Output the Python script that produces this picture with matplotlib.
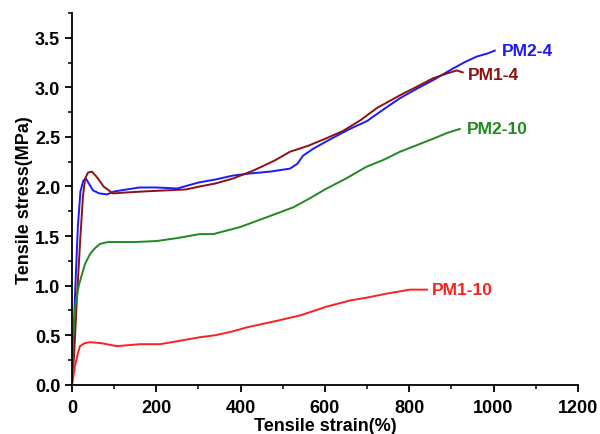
import matplotlib.pyplot as plt
from matplotlib.ticker import MultipleLocator

plt.rcParams['font.family'] = ['Liberation Sans', 'DejaVu Sans']

# curvas tensao x deformacao
pm2_4_x = [0, 3, 8, 14, 20, 27, 33, 40, 50, 65, 83, 100, 130, 160, 200, 250, 300, 340, 382, 420, 470, 517, 535, 548, 572, 610, 659, 700, 740, 778, 820, 860, 896, 930, 960, 985, 1003]
pm2_4_y = [0, 0.4, 1.0, 1.6, 1.95, 2.06, 2.08, 2.03, 1.96, 1.93, 1.92, 1.95, 1.97, 1.99, 1.99, 1.98, 2.04, 2.07, 2.11, 2.13, 2.15, 2.18, 2.23, 2.31, 2.38, 2.47, 2.58, 2.66, 2.78, 2.89, 2.99, 3.08, 3.17, 3.25, 3.31, 3.34, 3.37]

pm1_4_x = [0, 5, 12, 20, 26, 31, 38, 47, 58, 75, 97, 130, 170, 220, 270, 303, 340, 382, 430, 480, 517, 560, 600, 643, 685, 723, 778, 820, 856, 890, 913, 927]
pm1_4_y = [0, 0.3, 0.9, 1.5, 1.9, 2.08, 2.14, 2.15, 2.1, 2.0, 1.93, 1.94, 1.95, 1.96, 1.97, 2.0, 2.03, 2.08, 2.16, 2.26, 2.35, 2.41, 2.48, 2.56, 2.67, 2.79, 2.92, 3.01, 3.09, 3.14, 3.17, 3.15]

pm2_10_x = [0, 3, 8, 16, 24, 31, 43, 55, 66, 85, 106, 150, 201, 250, 303, 335, 398, 462, 525, 564, 600, 650, 699, 740, 778, 820, 856, 890, 920]
pm2_10_y = [0, 0.5, 0.8, 1.0, 1.12, 1.22, 1.32, 1.38, 1.42, 1.44, 1.44, 1.44, 1.45, 1.48, 1.52, 1.52, 1.59, 1.69, 1.79, 1.88, 1.97, 2.08, 2.2, 2.27, 2.35, 2.42, 2.48, 2.54, 2.58]

pm1_10_x = [0, 7, 14, 19, 30, 43, 70, 106, 161, 209, 250, 303, 340, 382, 415, 480, 541, 605, 659, 700, 747, 802, 842]
pm1_10_y = [0, 0.19, 0.32, 0.39, 0.42, 0.43, 0.42, 0.39, 0.41, 0.41, 0.44, 0.48, 0.5, 0.54, 0.58, 0.64, 0.7, 0.79, 0.85, 0.88, 0.92, 0.96, 0.96]

rotulos = ["PM2-4", "PM1-4", "PM2-10", "PM1-10"]
cores = ["#1a1aff", "#8b1212", "#1f8a1f", "#ff1f1f"]
pos_rotulos = [(1020, 3.37), (939, 3.13), (936, 2.58), (853, 0.96)]

fig = plt.figure(figsize=(6, 4.35), dpi=100)
ax = fig.add_axes([0.12, 0.113, 0.843, 0.855])

curvas = [(pm2_4_x, pm2_4_y), (pm1_4_x, pm1_4_y), (pm2_10_x, pm2_10_y), (pm1_10_x, pm1_10_y)]
for (xs, ys), cor in zip(curvas, cores):
    ax.plot(xs, ys, color=cor, lw=1.4)

for nome, cor, (tx, ty) in zip(rotulos, cores, pos_rotulos):
    ax.text(tx, ty, nome, color=cor, fontsize=12.5, fontweight='bold', va='center', ha='left')

ax.set_xlim(0, 1200)
ax.set_ylim(0, 3.75)
ax.xaxis.set_major_locator(MultipleLocator(200))
ax.xaxis.set_minor_locator(MultipleLocator(100))
ax.yaxis.set_major_locator(MultipleLocator(0.5))
ax.yaxis.set_minor_locator(MultipleLocator(0.25))
ax.spines['top'].set_visible(False)
ax.spines['right'].set_visible(False)
ax.spines['left'].set_linewidth(1.3)
ax.spines['bottom'].set_linewidth(1.3)
ax.tick_params(which='major', direction='out', length=5, width=1.3, labelsize=13)
ax.tick_params(axis='x', which='major', pad=5)
ax.tick_params(which='minor', direction='out', length=3, width=1.1)
for lab in ax.get_xticklabels() + ax.get_yticklabels():
    lab.set_fontweight('bold')
ax.set_yticks([0, 0.5, 1.0, 1.5, 2.0, 2.5, 3.0, 3.5])
ax.set_yticklabels(["0.0", "0.5", "1.0", "1.5", "2.0", "2.5", "3.0", "3.5"], fontweight='bold')
ax.set_xlabel("Tensile strain(%)", fontsize=13, fontweight='bold', labelpad=1)
ax.set_ylabel("Tensile stress(MPa)", fontsize=13, fontweight='bold', labelpad=1)

fig.savefig("out.png", dpi=100)
